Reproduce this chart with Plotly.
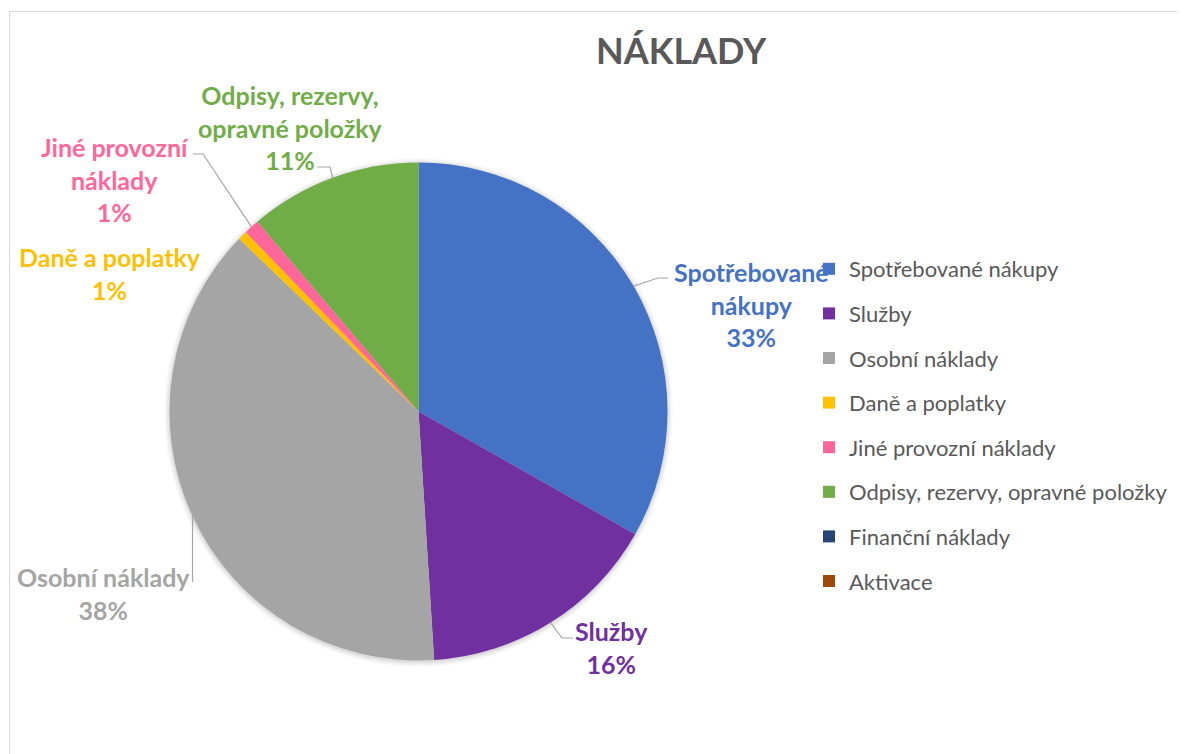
import math
import plotly.graph_objects as go

# ---- data ----
categories = ["Spotřebované nákupy", "Služby", "Osobní náklady", "Daně a poplatky",
              "Jiné provozní náklady", "Odpisy, rezervy, opravné položky",
              "Finanční náklady", "Aktivace"]
values = [33.2, 15.8, 38.2, 0.6, 1.0, 11.2, 0.0, 0.0]
colors = ["#4472C4", "#7030A0", "#A5A5A5", "#FFC000", "#FF6699", "#70AD47", "#264478", "#9E480E"]
# how each data label is wrapped (text lines before the percentage)
label_lines = [["Spotřebované", "nákupy"], ["Služby"], ["Osobní náklady"], ["Daně a poplatky"],
               ["Jiné provozní", "náklady"], ["Odpisy, rezervy,", "opravné položky"], None, None]
title_text = "NÁKLADY"

# ---- layout constants (pixels in the 1185x754 window) ----
OFF = 8                      # default page margin around the plot div
W, H = 1185 - OFF, 754 - OFF
CX, CY, R = 418.5, 411.5, 249.0
FONT = "Lato"
TXT = "#595959"

def px(x):
    return (x - OFF) / W

def py(y):
    return 1 - (y - OFF) / H

# label text centres and leader-line routing (layout positions)
label_pos = [(751, 305), (611, 647.5), (103, 593.5), (110, 273.5), (115, 180), (290, 127.5), None, None]
leader_route = [[(658, 278), (668, 278)],
                [(562, 638), (573, 638)],
                [None, (None, 582)],
                None,
                [(203, 154), (193, 154)],
                [(330, 167), (317, 167)],
                None, None]

fig = go.Figure()

fig.add_trace(go.Pie(
    labels=categories, values=values, sort=False, direction="clockwise", rotation=0,
    marker=dict(colors=colors, line=dict(width=0)),
    textinfo="none", showlegend=False, hoverinfo="label+percent",
    domain=dict(x=[px(CX - R), px(CX + R)], y=[py(CY + R), py(CY - R)]),
))

# legend entries (one per category)
for cat, col in zip(categories, colors):
    fig.add_trace(go.Scatter(x=[None], y=[None], mode="markers", name=cat, legendgroup=cat,
                             marker=dict(symbol="square", size=12, color=col), showlegend=True))

total = sum(values)
shapes = []
annotations = []

# soft shadow around the pie
for k, op in enumerate([0.05, 0.04, 0.03, 0.02]):
    rr = R + 1 + k * 1.5
    shapes.append(dict(type="circle", xref="paper", yref="paper", layer="below",
                       x0=px(CX - rr), x1=px(CX + rr), y0=py(CY + rr + 1), y1=py(CY - rr + 1),
                       fillcolor=f"rgba(0,0,0,{op})", line=dict(width=0)))

cum = 0.0
for i, v in enumerate(values):
    mid = (cum + v / 2) / total * 2 * math.pi
    cum += v
    if label_pos[i] is None:
        continue
    pct = round(v / total * 100)
    text = "<br>".join(label_lines[i] + [f"{pct}%"])
    lx, ly = label_pos[i]
    annotations.append(dict(x=px(lx), y=py(ly), xref="paper", yref="paper", text=f"<b>{text}</b>",
                            showarrow=False, xanchor="center", yanchor="middle", align="center",
                            font=dict(family=FONT, size=25, color=colors[i])))
    if leader_route[i] is not None:
        sx = CX + R * math.sin(mid)
        sy = CY - R * math.cos(mid)
        pts = [(sx, sy)]
        for p in leader_route[i]:
            if p is None:
                continue
            x, y = p
            pts.append((sx if x is None else x, y))
        path = "M " + " L ".join(f"{px(x)},{py(y)}" for x, y in pts)
        shapes.append(dict(type="path", path=path, xref="paper", yref="paper",
                           line=dict(color="#A6A6A6", width=1.2)))

# chart area border
shapes.append(dict(type="rect", xref="paper", yref="paper", x0=px(9.5), y0=py(790), x1=px(1220), y1=py(11.5),
                   line=dict(color="#D9D9D9", width=1), layer="below"))

annotations.append(dict(x=px(681), y=py(50), xref="paper", yref="paper", text=f"<b>{title_text}</b>",
                        showarrow=False, xanchor="center", yanchor="middle",
                        font=dict(family=FONT, size=36, color=TXT)))

fig.update_layout(
    width=W, height=H, margin=dict(l=0, r=0, t=0, b=0),
    paper_bgcolor="white", plot_bgcolor="white",
    xaxis=dict(visible=False), yaxis=dict(visible=False),
    shapes=shapes, annotations=annotations,
    showlegend=True,
    legend=dict(x=px(809), y=py(248), xanchor="left", yanchor="top", tracegroupgap=13,
                font=dict(family=FONT, size=22, color=TXT), bgcolor="rgba(0,0,0,0)", borderwidth=0),
)

fig.write_html("out.html")
